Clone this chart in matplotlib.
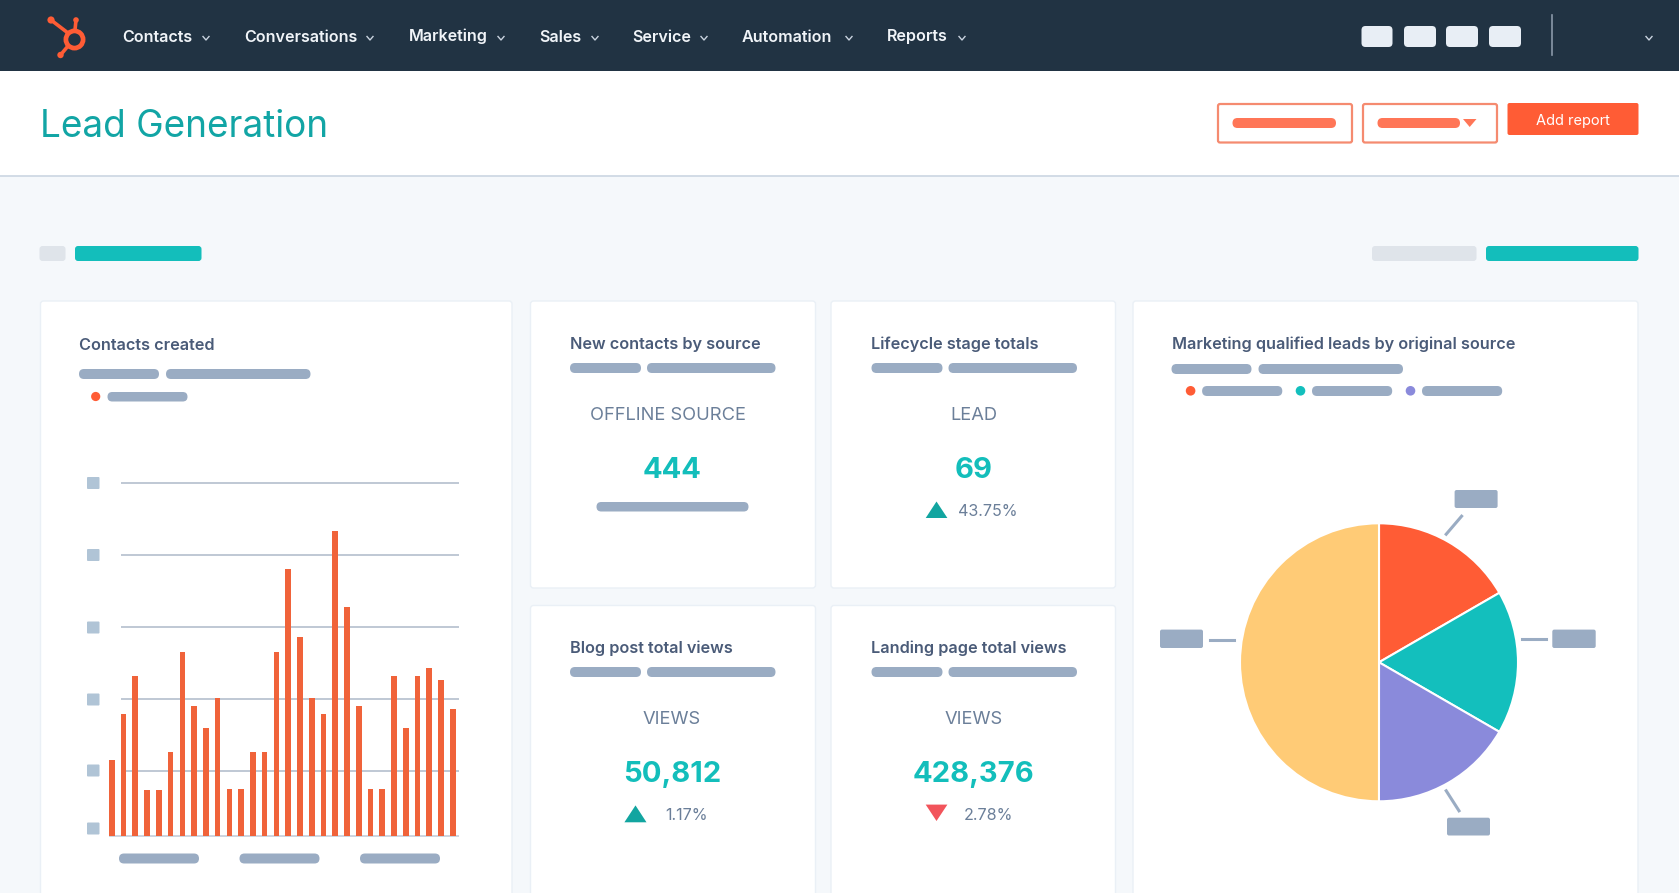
import numpy as np
import matplotlib
matplotlib.use('Agg')
import matplotlib.pyplot as plt
from matplotlib.patches import FancyBboxPatch, Circle, Polygon

W, H = 1679, 893

NAV_BG = '#213343'
PAGE_BG = '#F5F8FB'
ORANGE = '#FF5C35'
BAR_ORANGE = '#F0633A'
TEAL = '#13BEBB'
PILL = '#9AACC3'

plt.rcParams['font.family'] = ['Inter', 'DejaVu Sans']

# nav
nav_labels = ['Contacts', 'Conversations', 'Marketing', 'Sales', 'Service', 'Automation', 'Reports']
nav_x = [122.5, 244, 408.5, 539.5, 632, 742, 887]
nav_chevrons = [206, 370, 501, 595, 704, 849, 962, 1649]

# contacts created
bar_values = [21.5, 34.4, 45.2, 12.8, 12.8, 23.8, 51.9, 36.8, 30.4, 39.0,
              13.1, 13.1, 23.8, 23.8, 51.9, 75.6, 56.4, 39.0, 34.4, 86.3,
              64.7, 36.8, 13.1, 13.1, 45.2, 30.4, 45.2, 47.5, 44.2, 36.0]
grid_values = [18.2, 38.7, 59.0, 79.5, 100]

# pie
pie_values = [16.67, 16.67, 16.67, 50]
pie_colors = ['#FF5C35', '#13BFBD', '#8A8ADB', '#FFCB76']

card_titles = ['Contacts created', 'New contacts by source', 'Lifecycle stage totals',
               'Blog post total views', 'Landing page total views',
               'Marketing qualified leads by original source']
kpi_labels = ['OFFLINE SOURCE', 'LEAD', 'VIEWS', 'VIEWS']
kpi_values = ['444', '69', '50,812', '428,376']
kpi_changes = [None, '43.75%', '1.17%', '2.78%']


def box(ax, x0, y0, x1, y1, color, r=3, ec='none', lw=0, z=2):
    p = FancyBboxPatch((x0, y0), x1 - x0, y1 - y0, boxstyle='round,pad=0,rounding_size=%s' % r,
                       fc=color, ec=ec, lw=lw, zorder=z)
    ax.add_patch(p)


def pill(ax, x0, x1, y0, y1, color=PILL):
    box(ax, x0, y0, x1, y1, color, r=(y1 - y0) / 2)


def chevron(ax, x, y, color='#C9D3DF'):
    ax.plot([x - 3, x, x + 3], [y - 1.5, y + 2, y - 1.5], color=color, lw=1, zorder=3)


fig = plt.figure(figsize=(W / 100, H / 100), dpi=100, facecolor=PAGE_BG)
bg = fig.add_axes([0, 0, 1, 1])
bg.set_xlim(0, W)
bg.set_ylim(H, 0)
bg.axis('off')

# header
bg.fill_between([0, W], 0, 71, color=NAV_BG, lw=0, zorder=1)
bg.fill_between([0, W], 71, 176, color='white', lw=0, zorder=1)
bg.plot([0, W], [176, 176], color='#CBD6E2', lw=1.2, zorder=2)

# logo
for x0, y0, x1, y1 in [(51, 20, 68, 33), (76, 20, 75, 30), (60.5, 55, 68, 46)]:
    bg.plot([x0, x1], [y0, y1], color=ORANGE, lw=2.6, zorder=3, solid_capstyle='round')
for x, y, r in [(51, 20, 3.6), (76, 20, 2.8), (60.5, 55, 3.2)]:
    bg.add_patch(Circle((x, y), r, fc=ORANGE, ec='none', zorder=3))
bg.add_patch(Circle((74.5, 39.5), 8.6, fc='none', ec=ORANGE, lw=3.4, zorder=3))

for label, x in zip(nav_labels, nav_x):
    bg.text(x, 41.5, label, color='#F0F4F8', fontsize=11.6, fontweight='semibold', va='baseline', ha='left', zorder=3)
for x in nav_chevrons:
    chevron(bg, x, 38)

for x0, x1 in [(1361.5, 1392.5), (1404, 1436), (1446, 1478), (1489, 1521)]:
    box(bg, x0, 26, x1, 47, '#E8EEF5', r=4)
bg.plot([1552, 1552], [15, 55], color='#8A98A8', lw=1.2, zorder=3)

bg.text(40, 137, 'Lead Generation', color='#12A5A5', fontsize=26.6, va='baseline', ha='left', zorder=3)

# buttons
box(bg, 1218, 104, 1352, 142.5, 'white', r=2, ec='#F58B70', lw=1.6)
box(bg, 1363, 104, 1497, 142.5, 'white', r=2, ec='#F58B70', lw=1.6)
pill(bg, 1232.5, 1336, 118, 128, '#FF7657')
pill(bg, 1377.5, 1460, 118, 128, '#FF7657')
bg.add_patch(Polygon([(1463, 119), (1476.5, 119), (1469.7, 127)], fc='#FF7657', ec='none', zorder=3))
box(bg, 1507.5, 103, 1638.5, 135, ORANGE, r=2)
bg.text(1573, 120.5, 'Add report', color='white', fontsize=10.5, va='center', ha='center', zorder=3)

# filter row
box(bg, 39.5, 246, 65.5, 261, '#DFE4EA', r=3)
box(bg, 75, 246, 201.5, 261, TEAL, r=3)
box(bg, 1372, 246, 1476.5, 261, '#DFE4EA', r=3)
box(bg, 1486, 246, 1638.5, 261, TEAL, r=3)

# cards
for x0, y0, x1, y1 in [(40.5, 301, 512, 900), (530.5, 301, 815.5, 588), (831, 301, 1115.5, 588),
                       (530.5, 605.5, 815.5, 900), (831, 605.5, 1115.5, 900), (1133, 301, 1638, 900)]:
    box(bg, x0, y0, x1, y1, 'white', r=3, ec='#EAF0F6', lw=1)

title_pos = [(79, 349.5), (570, 349.5), (871, 349.5), (570, 653.5), (871, 653.5), (1172, 349.5)]
for s, (x, y) in zip(card_titles, title_pos):
    bg.text(x, y, s, color='#4A5B78', fontsize=11.7, fontweight='semibold', va='baseline', ha='left', zorder=3)

pill(bg, 79, 159, 369, 379)
pill(bg, 166, 310.5, 369, 379)
bg.add_patch(Circle((95.7, 396.5), 4.6, fc=ORANGE, ec='none', zorder=3))
pill(bg, 107.5, 187.5, 392, 401.5)

for x, y in [(570, 363), (871.5, 363), (570, 667), (871.5, 667)]:
    pill(bg, x, x + 71, y, y + 10)
    pill(bg, x + 77, x + 205.5, y, y + 10)

# KPIs
kpi_pos = [(672, 420, 478), (973.5, 420, 478), (672, 724, 782), (973.5, 724, 782)]
for label, value, (x, y0, y1) in zip(kpi_labels, kpi_values, kpi_pos):
    bg.text(x - (4 if label.startswith('OFF') else 0), y0, label, color='#6B7F99', fontsize=13.2, va='baseline', ha='center', zorder=3)
    bg.text(x, y1, value, color=TEAL, fontsize=21, fontweight='bold', va='baseline', ha='center', zorder=3)
pill(bg, 596.5, 748.5, 502, 511.5)

up = '#12A5A0'
down = '#F2545B'
bg.add_patch(Polygon([(925.7, 518), (947.4, 518), (936.5, 501.5)], fc=up, ec='none', zorder=3))
bg.add_patch(Polygon([(624.4, 822.3), (646.5, 822.3), (635.5, 805.4)], fc=up, ec='none', zorder=3))
bg.add_patch(Polygon([(925.7, 804.6), (947.4, 804.6), (936.5, 821)], fc=down, ec='none', zorder=3))
for s, x, y in zip(kpi_changes[1:], [988, 686.5, 988], [516.5, 820.5, 820.5]):
    bg.text(x, y, s, color='#6B7F99', fontsize=11.6, va='baseline', ha='center', zorder=3)

# pie card legend
pill(bg, 1171.5, 1251.5, 364, 374)
pill(bg, 1258.5, 1403, 364, 374)
for x, c in zip([1190.6, 1300.5, 1410.5], pie_colors):
    bg.add_patch(Circle((x, 390.8), 4.8, fc=c, ec='none', zorder=3))
    pill(bg, x + 11.5, x + 91.7, 386, 396)

# pie callouts
for x0, y0, x1, y1 in [(1454.6, 490, 1497.6, 508), (1552.3, 629.6, 1595.7, 648),
                       (1160, 629.6, 1203, 648), (1447, 817.7, 1490, 835.5)]:
    box(bg, x0, y0, x1, y1, PILL, r=2)
for x0, y0, x1, y1 in [(1446.2, 534.2, 1461.6, 516.2), (1521.5, 638.5, 1546, 638.5),
                       (1209.5, 640, 1234.3, 640), (1446.2, 790.8, 1459, 810.8)]:
    bg.plot([x0, x1], [y0, y1], color=PILL, lw=2.2, zorder=3)

# y axis placeholders and x axis placeholders on the bar chart
for y in [483, 555, 627.5, 699.5, 770.5, 828.5]:
    box(bg, 87, y - 6, 99.5, y + 6, '#B0C4D6', r=1)
for x0 in [119, 239.5, 360]:
    pill(bg, x0, x0 + 80, 853.5, 863.5)

# bar chart
ax = fig.add_axes([105 / W, 1 - 835.6 / H, (458.7 - 105) / W, (835.6 - 482.7) / H])
ax.set_xlim(-0.536, 29.54)
ax.set_ylim(0, 100)
ax.axis('off')
ax.patch.set_alpha(0)
ax.hlines(grid_values, 0.8, 29.54, color='#B4BFCD', lw=1.2, zorder=1, clip_on=False)
ax.hlines(0, -0.2, 29.54, color='#C5CEDA', lw=1.2, zorder=1, clip_on=False)
ax.bar(np.arange(len(bar_values)) + 0.04, bar_values, width=0.48, color=BAR_ORANGE, zorder=2)

# pie chart
r = 139
pie_ax = fig.add_axes([(1379 - r) / W, 1 - (662.3 + r) / H, 2 * r / W, 2 * r / H])
pie_ax.pie(pie_values, colors=pie_colors, startangle=90, counterclock=False, radius=1,
           wedgeprops=dict(edgecolor='white', linewidth=1.5))
pie_ax.set_xlim(-1, 1)
pie_ax.set_ylim(-1, 1)

fig.savefig('out.png', dpi=100, facecolor=PAGE_BG)
print("done")
